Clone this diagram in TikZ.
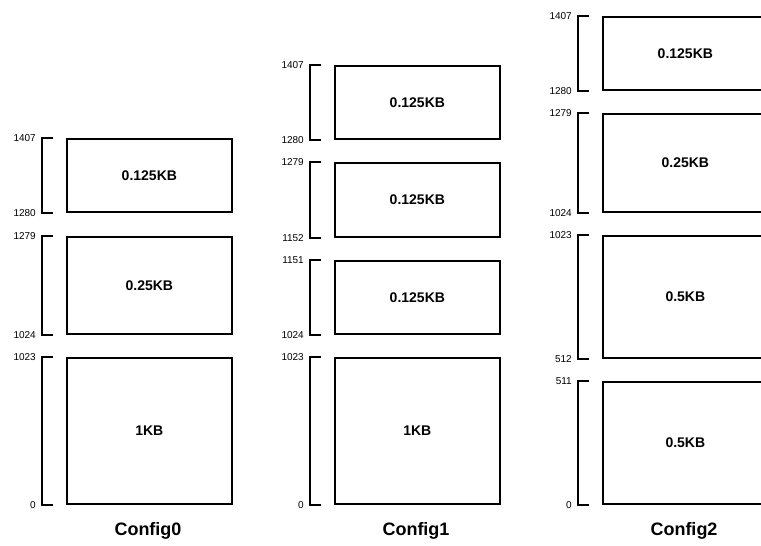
\documentclass[tikz,border=0pt]{standalone}
\usepackage{fontspec}
\setmainfont{Liberation Sans}
\tikzset{
  blk/.style={draw, line width=1.7pt, anchor=north west, inner sep=0pt,
    font=\fontsize{14}{16}\selectfont\bfseries},
  brk/.style={line width=1.7pt},
  addr/.style={anchor=east, inner sep=0pt, font=\fontsize{10}{12}\selectfont},
  cfgcaption/.style={inner sep=0pt, font=\fontsize{18}{20}\selectfont\bfseries}
}
% #1 name, #2 left x, #3 top y, #4 bottom y, #5 text, #6 top addr, #7 bottom addr
\newcommand\mblk[7]{%
  \node[blk, minimum width=165pt, minimum height={(#4-#3)*1pt}] (#1) at (#2,#3) {#5};
  \draw[brk] ([xshift=-13pt]#1.north west) -- ([xshift=-24pt]#1.north west)
     -- ([xshift=-24pt]#1.south west) -- ([xshift=-13pt]#1.south west);
  \node[addr] (#1t) at ([xshift=-30pt]#1.north west) {#6};
  \node[addr] (#1b) at ([xshift=-30pt]#1.south west) {#7};
}
\begin{document}
\begin{tikzpicture}[x=1pt,y=-1pt]
\clip (0,0) rectangle (761,546);
\useasboundingbox (0,0) rectangle (761,546);
% Config0
\mblk{a1}{66}{138}{211}{0.125KB}{1407}{1280}
\mblk{a2}{66}{236}{333}{0.25KB}{1279}{1024}
\mblk{a3}{66}{357}{503}{1KB}{1023}{0}
\node[cfgcaption] (c0) at (148,531) {Config0};
% Config1
\mblk{b1}{334}{65}{138}{0.125KB}{1407}{1280}
\mblk{b2}{334}{162}{236}{0.125KB}{1279}{1152}
\mblk{b3}{334}{260}{333}{0.125KB}{1151}{1024}
\mblk{b4}{334}{357}{503}{1KB}{1023}{0}
\node[cfgcaption] (c1) at (416,531) {Config1};
% Config2
\mblk{d1}{602}{16}{89}{0.125KB}{1407}{1280}
\mblk{d2}{602}{113}{211}{0.25KB}{1279}{1024}
\mblk{d3}{602}{235}{357}{0.5KB}{1023}{512}
\mblk{d4}{602}{381}{503}{0.5KB}{511}{0}
\node[cfgcaption] (c2) at (684,531) {Config2};
\end{tikzpicture}
\end{document}
